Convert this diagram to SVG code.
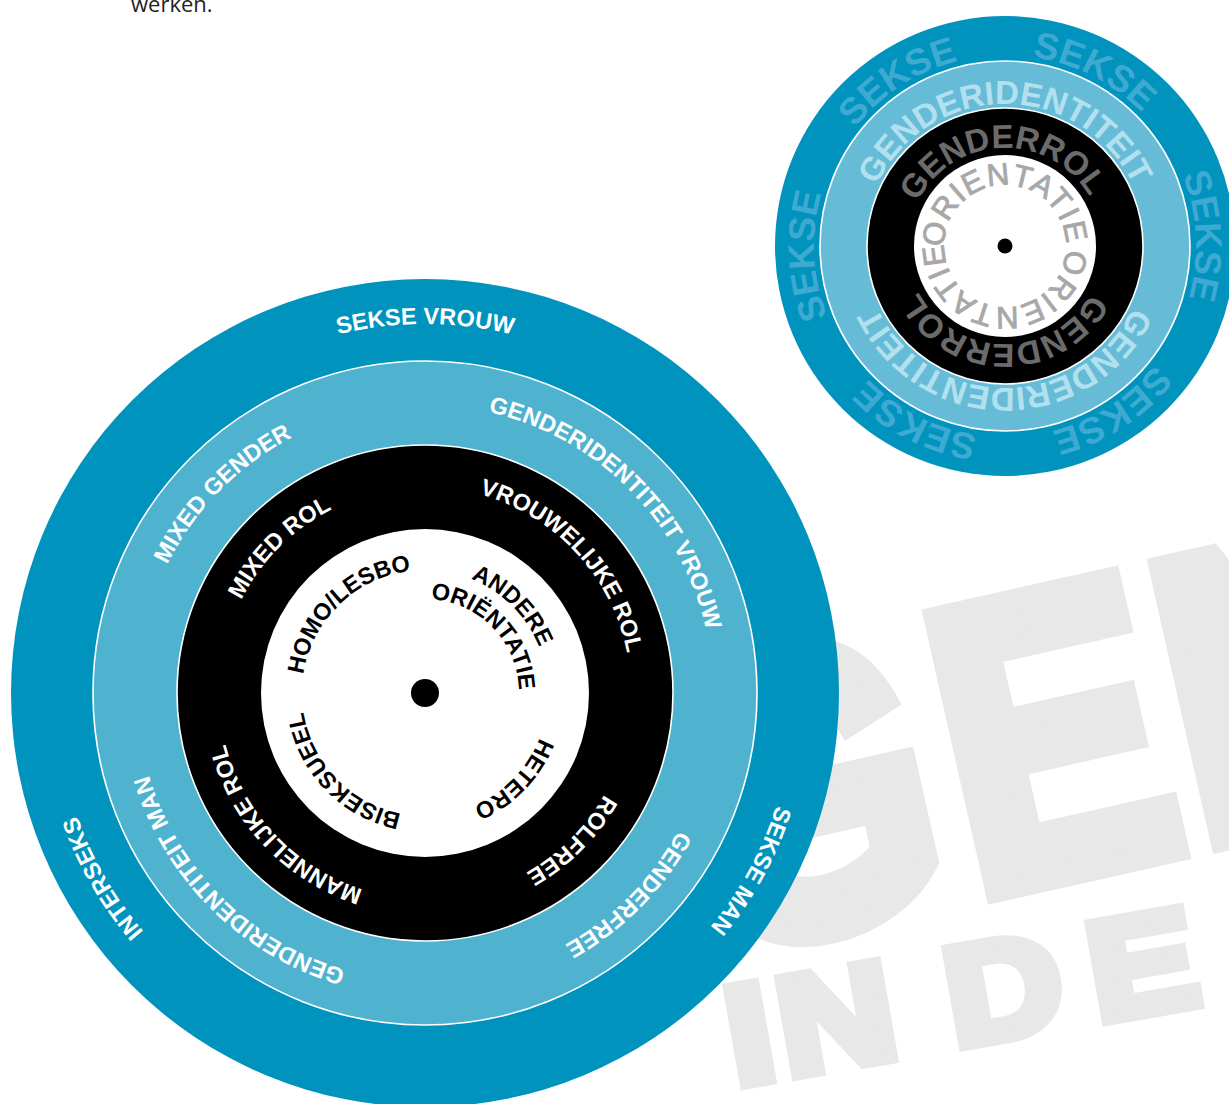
<svg xmlns="http://www.w3.org/2000/svg" xmlns:xlink="http://www.w3.org/1999/xlink" width="1229" height="1104" viewBox="0 0 1229 1104">
<style>
  .bg{fill:#e8e8e8;stroke:#e8e8e8;stroke-linejoin:miter;font-family:"Liberation Sans",Arial,sans-serif;font-weight:bold}
  .bt{font-family:"Liberation Sans",Arial,sans-serif;font-weight:bold;font-size:23.5px}
  .wt{fill:#fff}
  .kt{fill:#000}
  .sk{font-family:"Liberation Sans",Arial,sans-serif;font-weight:bold;font-size:37px;fill:#3eaad2}
  .gi{font-family:"Liberation Sans",Arial,sans-serif;font-weight:bold;font-size:33px;fill:#b3e0ee}
  .gr{font-family:"Liberation Sans",Arial,sans-serif;font-weight:bold;font-size:33px;fill:#6b6b6b}
  .or{font-family:"Liberation Sans",Arial,sans-serif;font-size:31px;fill:#a8a8a8;stroke:#a8a8a8;stroke-width:0.9}
  .sep{stroke:#fff;stroke-width:1.6}
</style>
<defs>
  <path id="bO" d="M56,693 A369,369 0 1 1 794,693 A369,369 0 1 1 56,693 A369,369 0 1 1 794,693 A369,369 0 1 1 56,693"/>
  <path id="bL" d="M137,693 A288,288 0 1 1 713,693 A288,288 0 1 1 137,693 A288,288 0 1 1 713,693 A288,288 0 1 1 137,693"/>
  <path id="bB" d="M219,693 A206,206 0 1 1 631,693 A206,206 0 1 1 219,693 A206,206 0 1 1 631,693 A206,206 0 1 1 219,693"/>
  <path id="bW" d="M302,693 A123,123 0 1 1 548,693 A123,123 0 1 1 302,693 A123,123 0 1 1 548,693 A123,123 0 1 1 302,693"/>
  <path id="bW2" d="M331,693 A94,94 0 1 1 519,693 A94,94 0 1 1 331,693 A94,94 0 1 1 519,693 A94,94 0 1 1 331,693"/>
  <path id="sO" d="M814,246 A191,191 0 1 1 1196,246 A191,191 0 1 1 814,246 A191,191 0 1 1 1196,246 A191,191 0 1 1 814,246"/>
  <path id="sL" d="M863,246 A142,142 0 1 1 1147,246 A142,142 0 1 1 863,246 A142,142 0 1 1 1147,246 A142,142 0 1 1 863,246"/>
  <path id="sB" d="M907,246 A98,98 0 1 1 1103,246 A98,98 0 1 1 907,246 A98,98 0 1 1 1103,246 A98,98 0 1 1 907,246"/>
  <path id="sW" d="M944,246 A61,61 0 1 1 1066,246 A61,61 0 1 1 944,246 A61,61 0 1 1 1066,246 A61,61 0 1 1 944,246"/>
</defs>

<g id="background-lettering">
  <g transform="translate(921,598) rotate(-12.7) scale(0.83,1)">
    <text class="bg" font-size="405" stroke-width="24" x="-350.6 -17.6 260.4" y="302">GEN</text>
  </g>
  <g transform="translate(774,972) rotate(-10) scale(1.15,1)">
    <text class="bg" font-size="140" stroke-width="12" x="-49.7 -4.2 100 143.6 269.7" y="105">IN DE</text>
  </g>
</g>

<text id="intro-text" x="131" y="12" font-family="'Open Sans','Liberation Sans',sans-serif" font-size="22" fill="#231f20">werken.</text>

<g id="small-wheel">
  <circle cx="1005" cy="246" r="230" fill="#0093bd"/>
  <circle cx="1005" cy="246" r="185" fill="#66bcd7" class="sep"/>
  <circle cx="1005" cy="246" r="138" fill="#000" class="sep"/>
  <circle cx="1005" cy="246" r="91" fill="#fff"/>
  <circle cx="1005" cy="246" r="7.5" fill="#000"/>
  <text class="sk" text-anchor="middle"><textPath href="#sO" xlink:href="#sO" startOffset="190">SEKSE</textPath></text>
  <text class="sk" text-anchor="middle"><textPath href="#sO" xlink:href="#sO" startOffset="390">SEKSE</textPath></text>
  <text class="sk" text-anchor="middle"><textPath href="#sO" xlink:href="#sO" startOffset="590">SEKSE</textPath></text>
  <text class="sk" text-anchor="middle"><textPath href="#sO" xlink:href="#sO" startOffset="790">SEKSE</textPath></text>
  <text class="sk" text-anchor="middle"><textPath href="#sO" xlink:href="#sO" startOffset="990">SEKSE</textPath></text>
  <text class="sk" text-anchor="middle"><textPath href="#sO" xlink:href="#sO" startOffset="1190">SEKSE</textPath></text>
  <text class="gi" text-anchor="middle"><textPath href="#sL" xlink:href="#sL" startOffset="223">GENDERIDENTITEIT</textPath></text>
  <text class="gi" text-anchor="middle"><textPath href="#sL" xlink:href="#sL" startOffset="669.2">GENDERIDENTITEIT</textPath></text>
  <text class="gr" text-anchor="middle"><textPath href="#sB" xlink:href="#sB" startOffset="150.5">GENDERROL</textPath></text>
  <text class="gr" text-anchor="middle"><textPath href="#sB" xlink:href="#sB" startOffset="461.8">GENDERROL</textPath></text>
  <text class="or" text-anchor="middle" letter-spacing="1"><textPath href="#sW" xlink:href="#sW" startOffset="94.2">ORIENTATIE</textPath></text>
  <text class="or" text-anchor="middle" letter-spacing="1"><textPath href="#sW" xlink:href="#sW" startOffset="289.6">ORIENTATIE</textPath></text>
</g>

<g id="big-wheel">
  <circle cx="425" cy="693" r="414" fill="#0093bd"/>
  <circle cx="425" cy="693" r="332" fill="#4fb3d0" class="sep"/>
  <circle cx="425" cy="693" r="248" fill="#000" class="sep"/>
  <circle cx="425" cy="693" r="164" fill="#fff"/>
  <circle cx="425" cy="693" r="14" fill="#000"/>
</g>

<g id="ring-sekse" class="bt wt" text-anchor="middle">
  <text><textPath href="#bO" xlink:href="#bO" startOffset="579.6">SEKSE VROUW</textPath></text>
  <text><textPath href="#bO" xlink:href="#bO" startOffset="1342.8">SEKSE MAN</textPath></text>
  <text><textPath href="#bO" xlink:href="#bO" startOffset="2125.3">INTERSEKS</textPath></text>
</g>
<g id="ring-genderidentiteit" class="bt wt" text-anchor="middle">
  <text><textPath href="#bL" xlink:href="#bL" startOffset="223.7">MIXED GENDER</textPath></text>
  <text><textPath href="#bL" xlink:href="#bL" startOffset="678.6">GENDERIDENTITEIT VROUW</textPath></text>
  <text><textPath href="#bL" xlink:href="#bL" startOffset="1129">GENDERFREE</textPath></text>
  <text><textPath href="#bL" xlink:href="#bL" startOffset="1581.4">GENDERIDENTITEIT MAN</textPath></text>
</g>
<g id="ring-genderrol" class="bt wt" text-anchor="middle">
  <text><textPath href="#bB" xlink:href="#bB" startOffset="161.8">MIXED ROL</textPath></text>
  <text><textPath href="#bB" xlink:href="#bB" startOffset="492.6">VROUWELIJKE ROL</textPath></text>
  <text><textPath href="#bB" xlink:href="#bB" startOffset="809">ROLFREE</textPath></text>
  <text><textPath href="#bB" xlink:href="#bB" startOffset="1137.9">MANNELIJKE ROL</textPath></text>
</g>
<g id="disc-orientatie" class="bt kt" text-anchor="middle">
  <text><textPath href="#bW" xlink:href="#bW" startOffset="98.75">HOMO/LESBO</textPath></text>
  <text><textPath href="#bW" xlink:href="#bW" startOffset="289.8">ANDERE</textPath></text>
  <text><textPath href="#bW2" xlink:href="#bW2" startOffset="222.5">ORIËNTATIE</textPath></text>
  <text><textPath href="#bW" xlink:href="#bW" startOffset="480.9">HETERO</textPath></text>
  <text><textPath href="#bW" xlink:href="#bW" startOffset="678.4">BISEKSUEEL</textPath></text>
</g>

<g id="connectors"/>
</svg>
